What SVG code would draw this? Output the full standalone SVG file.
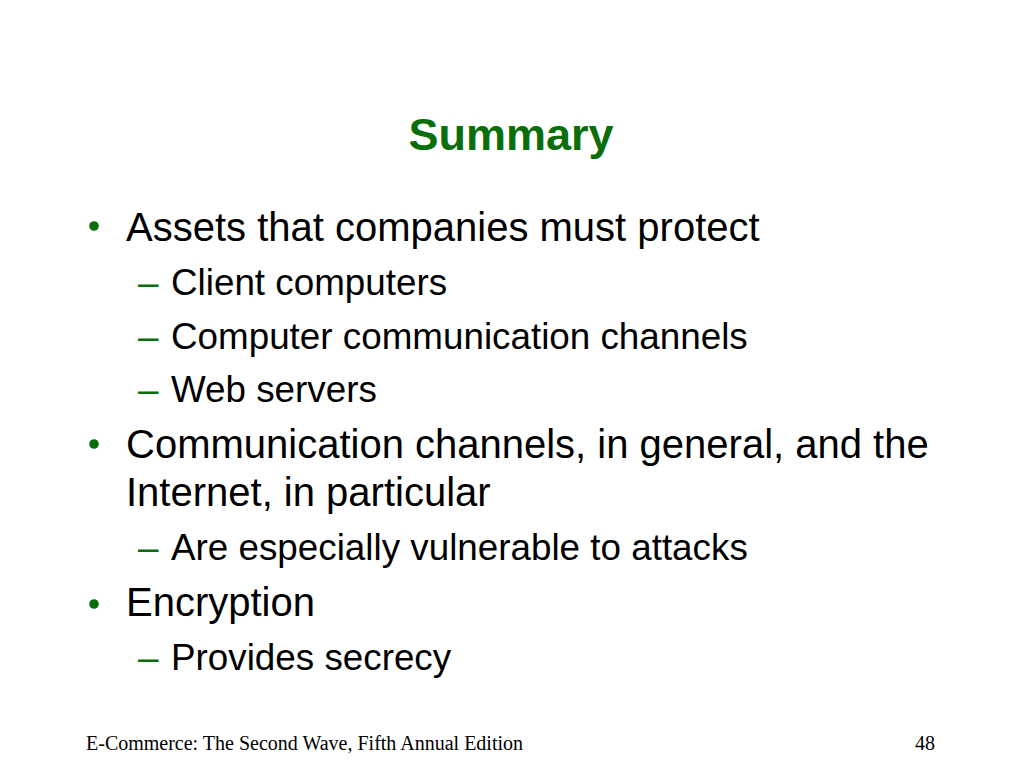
<svg xmlns="http://www.w3.org/2000/svg" width="1024" height="768" viewBox="0 0 1024 768">
<style>
.title{font-family:"Liberation Sans",Arial,sans-serif;font-weight:bold;font-size:45px;fill:#0a6e0a}
.l1{font-family:"Liberation Sans",Arial,sans-serif;font-size:40px;fill:#000}
.l2{font-family:"Liberation Sans",Arial,sans-serif;font-size:36.8px;fill:#000}
.dash{font-family:"Liberation Sans",Arial,sans-serif;font-size:36.8px;fill:#0a6e0a}
.dot{fill:#0a6e0a}
.foot{font-family:"Liberation Serif","Times New Roman",serif;font-size:20px;fill:#000}
</style>
<rect width="1024" height="768" fill="#fff"/>
<g id="title"><text class="title" x="511" y="150" text-anchor="middle">Summary</text></g>
<g id="bullet1">
<circle class="dot" cx="94" cy="226" r="4.8"/>
<text class="l1" x="126" y="241">Assets that companies must protect</text>
<text class="dash" x="138" y="295">–</text><text class="l2" x="171" y="295">Client computers</text>
<text class="dash" x="138" y="348.5">–</text><text class="l2" x="171" y="348.5">Computer communication channels</text>
<text class="dash" x="138" y="402">–</text><text class="l2" x="171" y="402">Web servers</text>
</g>
<g id="bullet2">
<circle class="dot" cx="94" cy="444" r="4.8"/>
<text class="l1" x="126" y="458">Communication channels, in general, and the</text>
<text class="l1" x="126" y="506">Internet, in particular</text>
<text class="dash" x="138" y="560">–</text><text class="l2" x="171" y="560">Are especially vulnerable to attacks</text>
</g>
<g id="bullet3">
<circle class="dot" cx="94" cy="604" r="4.8"/>
<text class="l1" x="126" y="616">Encryption</text>
<text class="dash" x="138" y="670">–</text><text class="l2" x="171" y="670">Provides secrecy</text>
</g>
<g id="footer">
<text class="foot" x="86" y="750">E-Commerce: The Second Wave, Fifth Annual Edition</text>
<text class="foot" x="935" y="750" text-anchor="end">48</text>
</g>
</svg>
